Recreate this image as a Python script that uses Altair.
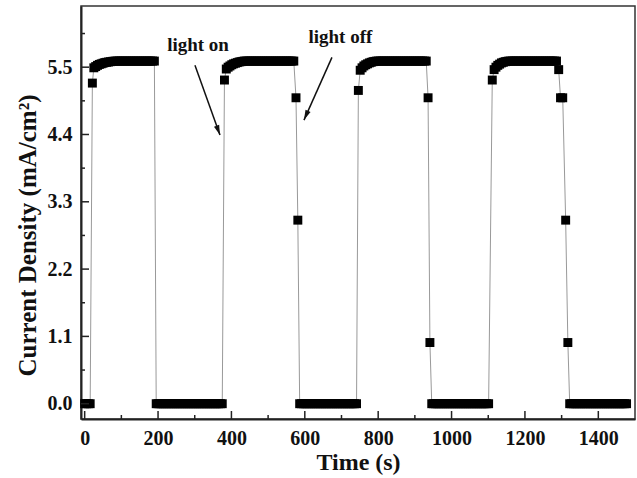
import altair as alt
import pandas as pd

STEP = 5
# plateau / baseline readings: (first time, last time, level)
flat_segments = [
    (0, 15, 0.0),
    (85, 190, 5.6),
    (195, 375, 0.0),
    (435, 570, 5.6),
    (586, 741, 0.0),
    (796, 931, 5.6),
    (946, 1101, 0.0),
    (1156, 1286, 5.6),
    (1322, 1477, 0.0),
]

# transition readings
rise1_t = [21, 25, 30, 35, 40, 45, 50, 55, 60, 65, 70, 75, 80]
rise1_v = [5.24, 5.49, 5.51, 5.53, 5.545, 5.555, 5.565, 5.575, 5.58, 5.585, 5.59, 5.595, 5.598]
rise2_t = [381, 386, 391, 396, 401, 406, 411, 416, 421, 426, 431]
rise2_v = [5.29, 5.47, 5.50, 5.52, 5.54, 5.555, 5.565, 5.575, 5.585, 5.59, 5.595]
fall2_t = [576, 581]
fall2_v = [5.0, 3.0]
rise3_t = [746, 751, 756, 761, 766, 771, 776, 781, 786, 791]
rise3_v = [5.12, 5.45, 5.49, 5.52, 5.54, 5.555, 5.57, 5.58, 5.59, 5.595]
fall3_t = [936, 941]
fall3_v = [5.0, 1.0]
rise4_t = [1111, 1116, 1121, 1126, 1131, 1136, 1141, 1146, 1151]
rise4_v = [5.29, 5.46, 5.50, 5.53, 5.55, 5.57, 5.58, 5.59, 5.595]
fall4_t = [1292, 1297, 1303, 1311, 1317]
fall4_v = [5.46, 5.0, 5.0, 3.0, 1.0]

x_major = [0, 200, 400, 600, 800, 1000, 1200, 1400]
x_minor = [100, 300, 500, 700, 900, 1100, 1300]
y_major = [0.0, 1.1, 2.2, 3.3, 4.4, 5.5]
y_minor = [0.55, 1.65, 2.75, 3.85, 4.95, 6.05]

labels = ["light on", "light off"]
label_x = [309, 697]
label_y = [5.76, 5.89]

arrow_x1 = [300.6, 674]
arrow_y1 = [5.53, 5.66]
arrow_x2 = [368.8, 597.7]
arrow_y2 = [4.39, 4.635]
arrow_angle = [160, 204]

# ---- build table ----
times, vals = [], []
for a, b, lvl in flat_segments:
    for t in range(a, b + 1, STEP):
        times.append(t)
        vals.append(lvl)
for tt, vv in [(rise1_t, rise1_v), (rise2_t, rise2_v), (fall2_t, fall2_v),
               (rise3_t, rise3_v), (fall3_t, fall3_v), (rise4_t, rise4_v),
               (fall4_t, fall4_v)]:
    times += tt
    vals += vv
df = pd.DataFrame({"t": times, "j": vals}).sort_values("t").reset_index(drop=True)

FONT = "Liberation Serif"
xscale = alt.Scale(domain=[-10, 1500], nice=False, zero=False)
yscale = alt.Scale(domain=[-0.25, 6.5], nice=False, zero=False)

xaxis = alt.Axis(values=x_major, format="d", title="Time (s)", grid=False, ticks=False, tickSize=0,
                 labelFont=FONT, labelFontSize=20, labelFontWeight="bold", labelColor="#111",
                 labelBaseline="alphabetic", labelPadding=25,
                 titleFont=FONT, titleFontSize=24, titleFontWeight="bold", titleColor="#111",
                 titleBaseline="alphabetic", titleY=50,
                 domainColor="#222", domainWidth=2)
yaxis = alt.Axis(values=y_major, title="Current Density (mA/cm²)", format=".1f", grid=False,
                 ticks=False, tickSize=0,
                 labelFont=FONT, labelFontSize=20, labelFontWeight="bold", labelColor="#111",
                 labelPadding=9,
                 titleFont=FONT, titleFontSize=25, titleFontWeight="bold", titleColor="#111",
                 titleBaseline="alphabetic", titleX=-46, titleY=229, titleAngle=270,
                 domainColor="#222", domainWidth=2)

base = alt.Chart(df)
line = base.mark_line(color="#999999", strokeWidth=1).encode(
    x=alt.X("t:Q", scale=xscale, axis=xaxis),
    y=alt.Y("j:Q", scale=yscale, axis=yaxis),
    order="t:Q",
)
pts = base.mark_square(size=80, color="black", opacity=1, filled=True).encode(
    x=alt.X("t:Q", scale=xscale),
    y=alt.Y("j:Q", scale=yscale),
)

H = 413
xmaj = alt.Chart(pd.DataFrame({"v": x_major})).mark_rule(color="#222", strokeWidth=1.5).encode(
    x=alt.X("v:Q", scale=xscale), y=alt.value(H), y2=alt.value(H - 8))
xmin = alt.Chart(pd.DataFrame({"v": x_minor})).mark_rule(color="#222", strokeWidth=1.5).encode(
    x=alt.X("v:Q", scale=xscale), y=alt.value(H), y2=alt.value(H - 4))
ymaj = alt.Chart(pd.DataFrame({"v": y_major})).mark_rule(color="#222", strokeWidth=1.5).encode(
    y=alt.Y("v:Q", scale=yscale), x=alt.value(0), x2=alt.value(8))
ymin = alt.Chart(pd.DataFrame({"v": y_minor})).mark_rule(color="#222", strokeWidth=1.5).encode(
    y=alt.Y("v:Q", scale=yscale), x=alt.value(0), x2=alt.value(4))

lab_df = pd.DataFrame({"label": labels, "x": label_x, "y": label_y})
texts = alt.Chart(lab_df).mark_text(font=FONT, fontSize=19, fontWeight="bold", color="#111",
                                    align="center", baseline="alphabetic").encode(
    x=alt.X("x:Q", scale=xscale), y=alt.Y("y:Q", scale=yscale), text="label:N")

arr_df = pd.DataFrame({"x1": arrow_x1, "y1": arrow_y1, "x2": arrow_x2, "y2": arrow_y2,
                       "ang": arrow_angle})
shafts = alt.Chart(arr_df).mark_rule(color="#111", strokeWidth=1.5).encode(
    x=alt.X("x1:Q", scale=xscale), y=alt.Y("y1:Q", scale=yscale),
    x2="x2:Q", y2="y2:Q")
heads = alt.Chart(arr_df).mark_point(shape="M0,0L-0.55,2L0.55,2Z", size=100, filled=True,
                                     color="#111", opacity=1).encode(
    x=alt.X("x2:Q", scale=xscale), y=alt.Y("y2:Q", scale=yscale),
    angle=alt.Angle("ang:Q", scale=None))

chart = alt.layer(line, pts, xmaj, xmin, ymaj, ymin, shafts, heads, texts).properties(
    width=554, height=H,
    autosize=alt.AutoSizeParams(type="none"),
    padding={"left": 81, "top": 6, "right": 2, "bottom": 59},
    background="white",
).configure_view(stroke="#333", strokeWidth=1.5)

chart.save("out.html", embed_options={"renderer": "svg", "actions": False})
